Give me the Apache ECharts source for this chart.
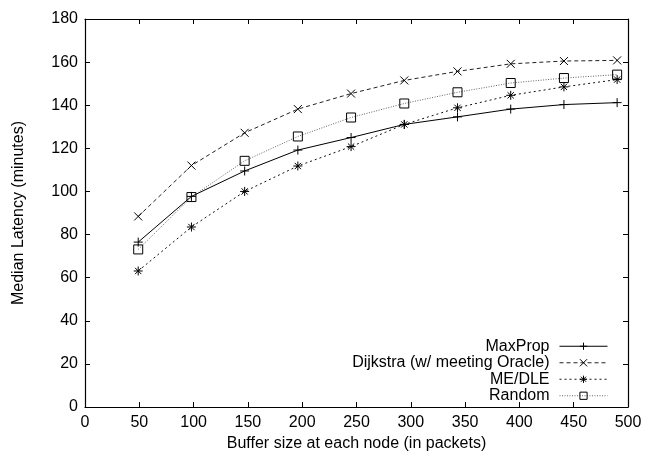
<!DOCTYPE html>
<html>
<head>
<meta charset="utf-8">
<script src="https://cdn.jsdelivr.net/npm/echarts@6/dist/echarts.min.js"></script>
<style>
  html, body { margin: 0; padding: 0; background: #fff; }
  #chart { width: 645px; height: 457px; }
</style>
</head>
<body>
<div id="chart"></div>
<script>
// Buffer sizes (packets) at which each protocol was measured
const bufferSizes = [49, 98, 147, 196, 245, 294, 343, 392, 441, 490];

// Median latency (minutes) per protocol
const maxProp  = [76.5, 97.7, 109.5, 119.2, 125.0, 131.1, 134.6, 138.2, 140.3, 141.2];
const dijkstra = [88.4, 112.0, 127.2, 138.2, 145.4, 151.5, 155.7, 159.2, 160.5, 160.8];
const meDle    = [63.1, 83.5, 100.0, 111.8, 120.8, 131.1, 138.8, 144.6, 148.5, 151.9];
const random   = [73.1, 97.4, 114.2, 125.5, 134.3, 140.8, 146.0, 150.3, 152.6, 154.2];

const seriesNames = ['MaxProp', 'Dijkstra (w/ meeting Oracle)', 'ME/DLE', 'Random'];

const FONT = 'Liberation Sans, Arial, Helvetica, sans-serif';
const FS = 16;

// Stroke-only marker shapes
const PLUS = 'path://M0,5L10,5M5,0L5,10';
const CROSS = 'path://M0,0L10,10M0,10L10,0';
const STAR = 'path://M0,5L10,5M5,0L5,10M1.5,1.5L8.5,8.5M1.5,8.5L8.5,1.5';

function pairs(ys) {
  return bufferSizes.map((x, i) => [x, ys[i]]);
}

function makeSeries(name, ys, symbol, size, lineType, lineColor) {
  return {
    name: name,
    type: 'line',
    data: pairs(ys),
    symbol: symbol,
    symbolSize: size,
    showAllSymbol: true,
    lineStyle: { color: lineColor, width: 1, type: lineType },
    itemStyle: { color: 'rgba(0,0,0,0)', borderColor: '#000', borderWidth: 1 },
    emphasis: { disabled: true },
    animation: false,
    z: 3
  };
}

const chart = echarts.init(document.getElementById('chart'), null, { renderer: 'canvas' });

const axisCommon = {
  min: 0,
  axisLine: { show: true, onZero: false, lineStyle: { color: '#000', width: 1.2 } },
  axisTick: { show: true, inside: true, length: 5, lineStyle: { color: '#000', width: 1 } },
  splitLine: { show: false }
};

chart.setOption({
  backgroundColor: '#fff',
  animation: false,
  grid: { left: 85, right: 17, top: 19, bottom: 49 },
  legend: {
    data: seriesNames,
    orient: 'vertical',
    right: 32,
    bottom: 48,
    align: 'right',
    padding: 5,
    itemWidth: 48,
    itemHeight: 9,
    itemGap: 0,
    symbolKeepAspect: true,
    itemStyle: { borderWidth: 1 },
    lineStyle: { width: 1 },
    textStyle: { fontFamily: FONT, fontSize: FS, color: '#000', lineHeight: 16.5, padding: [0, 5, 0, 0] }
  },
  xAxis: [
    Object.assign({}, axisCommon, {
      type: 'value',
      max: 500,
      interval: 50,
      position: 'bottom',
      name: 'Buffer size at each node (in packets)',
      nameLocation: 'middle',
      nameGap: 29,
      nameTextStyle: { fontFamily: FONT, fontSize: FS, color: '#000' },
      axisLabel: { fontFamily: FONT, fontSize: FS, color: '#000', margin: 8 }
    }),
    Object.assign({}, axisCommon, {
      type: 'value',
      max: 500,
      interval: 50,
      position: 'top',
      axisLabel: { show: false }
    })
  ],
  yAxis: [
    Object.assign({}, axisCommon, {
      type: 'value',
      max: 180,
      interval: 20,
      position: 'left',
      name: 'Median Latency (minutes)',
      nameLocation: 'middle',
      nameGap: 58,
      nameTextStyle: { fontFamily: FONT, fontSize: FS, color: '#000' },
      axisLabel: { fontFamily: FONT, fontSize: FS, color: '#000', margin: 7 }
    }),
    Object.assign({}, axisCommon, {
      type: 'value',
      max: 180,
      interval: 20,
      position: 'right',
      axisLabel: { show: false }
    })
  ],
  series: [
    makeSeries(seriesNames[0], maxProp, PLUS, 9, 'solid', '#000'),
    makeSeries(seriesNames[1], dijkstra, CROSS, 8, [4, 3], '#222'),
    makeSeries(seriesNames[2], meDle, STAR, 9, [2, 3], '#111'),
    makeSeries(seriesNames[3], random, 'rect', 9, [1, 1.5], '#666')
  ]
});
</script>
</body>
</html>
